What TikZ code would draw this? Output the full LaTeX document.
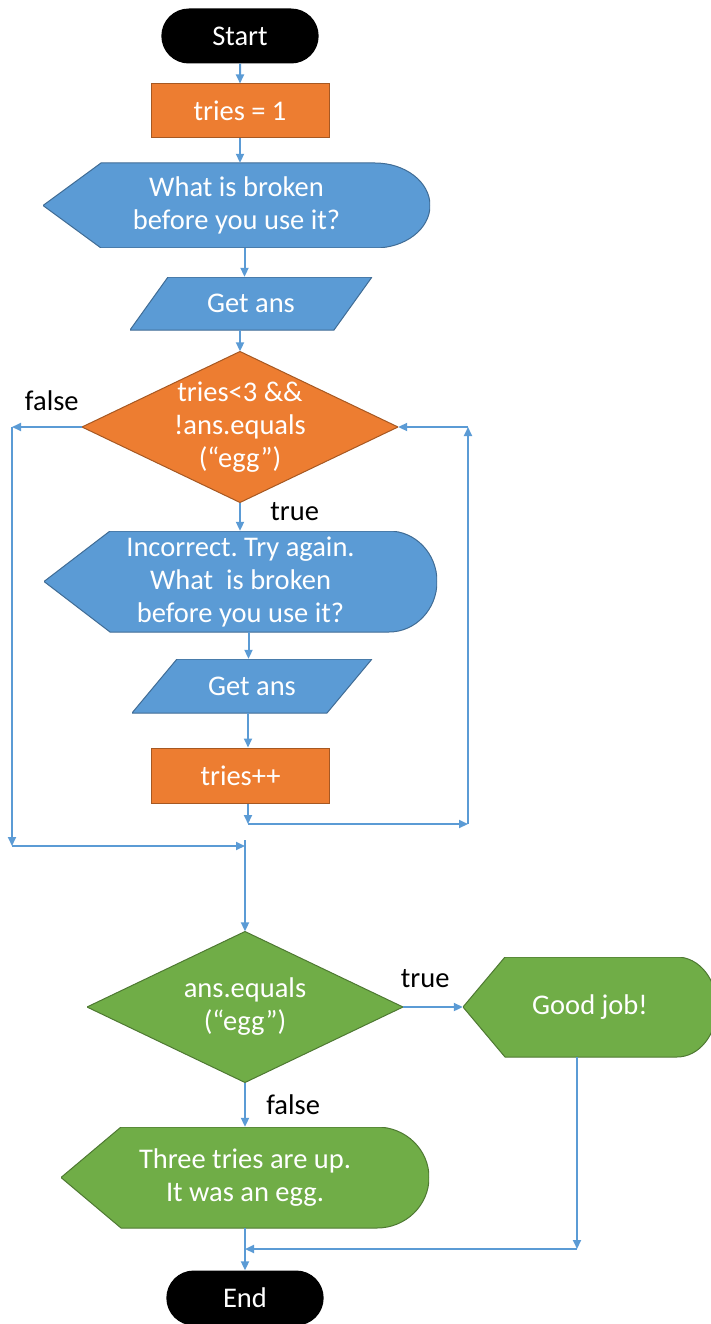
\documentclass[tikz,border=0pt]{standalone}
\usepackage{fontspec}
\setmainfont{Carlito}
\frenchspacing
\usetikzlibrary{arrows.meta,positioning,shapes.misc}
\definecolor{flowblue}{HTML}{5B9BD5}
\definecolor{floworange}{HTML}{ED7D31}
\definecolor{flowgreen}{HTML}{70AD47}

\begin{document}
\begin{tikzpicture}[x=1pt, y=-1pt, >={Triangle[length=9pt,width=8pt]},
  font=\fontsize{28.5}{33}\selectfont,
  line/.style={draw=flowblue, line width=2pt},
  term/.style={rounded rectangle, fill=black, text=white, minimum width=164pt, minimum height=55pt},
  proc/.style={draw=floworange!70!black, line width=1pt, fill=floworange, text=white, inner sep=0pt,
    minimum width=178pt, minimum height=54pt},
  decide/.style={text=white, align=center, inner sep=0pt, minimum width=316pt, minimum height=151pt,
    path picture={\path[fill=#1, draw=#1!70!black, line width=1pt]
      (path picture bounding box.north) -- (path picture bounding box.east)
      -- (path picture bounding box.south) -- (path picture bounding box.west) -- cycle;}},
  disp/.style n args={5}{inner sep=0pt, text=white, align=center, minimum width=#1, minimum height=#2,
    path picture={\path[fill=#5, draw=#5!70!black, line width=1pt]
      (path picture bounding box.west) -- ([xshift=#3]path picture bounding box.north west)
      -- ([xshift=-#4]path picture bounding box.north east)
      arc[start angle=90, end angle=-90, x radius=#4, y radius=#2/2]
      -- ([xshift=#3]path picture bounding box.south west) -- cycle;}},
  io/.style n args={3}{inner sep=0pt, text=white, minimum width=#1, minimum height=#2,
    path picture={\path[fill=flowblue, draw=flowblue!70!black, line width=1pt]
      ([xshift=#3]path picture bounding box.north west) -- (path picture bounding box.north east)
      -- ([xshift=-#3]path picture bounding box.south east) -- (path picture bounding box.south west) -- cycle;}}]
\useasboundingbox (0,0) rectangle (710,1324);

\node[term] (start) at (240,36) {Start};
\node[proc] (init) at (240,111) {tries = 1};
\node[disp={387pt}{85pt}{58pt}{55pt}{flowblue}] (ask1) at (236.5,205.5) {What is broken\\before you use it?};
\node[io={242pt}{53pt}{38pt}] (get1) at (251,303.5) {Get ans};
\node[decide=floworange] (loop) at (240,427) {tries<3 \&\&\\!ans.equals\\(“egg”)};
\node[disp={393pt}{101pt}{66pt}{48pt}{flowblue}] (ask2) at (240.5,581.5) {Incorrect. Try again.\\What~ is broken\\before you use it?};
\node[io={240pt}{54pt}{45pt}] (get2) at (252,686) {Get ans};
\node[proc, minimum height=55pt] (incr) at (240.5,775.5) {tries++};
\node[decide=flowgreen] (check) at (245,1007) {ans.equals\\(“egg”)};
\node[disp={254pt}{100pt}{42pt}{40pt}{flowgreen}] (good) at (590,1007) {Good job!};
\node[disp={368pt}{101pt}{60pt}{52pt}{flowgreen}] (fail) at (245,1177.5) {Three tries are up.\\It was an egg.};
\node[term] (stop) at (245,1298) {End};

% loop corners
\coordinate (lf) at (12,427);
\coordinate (lb) at (12,846);
\coordinate (join) at (245,846);
\coordinate (rb) at (248,824);
\coordinate (rr) at (468,824);
\coordinate (rt) at (468,427);
\coordinate (gb) at (577,1249);

\draw[line,->] (start) -- (init);
\draw[line,->] (init) -- (init |- ask1.north);
\draw[line,->] ([xshift=8pt]ask1.south) -- ([xshift=8pt]ask1.south |- get1.north);
\draw[line,->] (get1.south -| loop.north) -- (loop.north);

\draw[line,->] (loop.west) -- node[pos=0.43, yshift=26pt]{false} (lf);
\draw[line,->] (lf) -- (lb);
\draw[line,->] (lb) -- (join);
\draw[line,->] ([yshift=6pt]join) -- (check.north);

\draw[line,->] (loop.south) -- node[pos=0.3, right=26pt]{true} (loop.south |- ask2.north);
\draw[line,->] ([xshift=8pt]ask2.south) -- ([xshift=8pt]ask2.south |- get2.north);
\draw[line,->] (get2.south -| rb) -- (rb |- incr.north);
\draw[line,->] (rb |- incr.south) -- (rb);
\draw[line,->] (rb) -- (rr);
\draw[line,->] (rr) -- (rt);
\draw[line,->] (rt) -- (loop.east);

\draw[line,->] (check.east) -- node[pos=0.37, yshift=28pt]{true} (good.west);
\draw[line,->] (check.south) -- node[pos=0.5, right=17pt]{false} (fail.north);
\draw[line,->] ([xshift=-13pt]good.south) -- (gb);
\draw[line,->] (gb) -- (gb -| fail.south);
\draw[line,->] (fail.south) -- (stop.north);
\end{tikzpicture}
\end{document}
